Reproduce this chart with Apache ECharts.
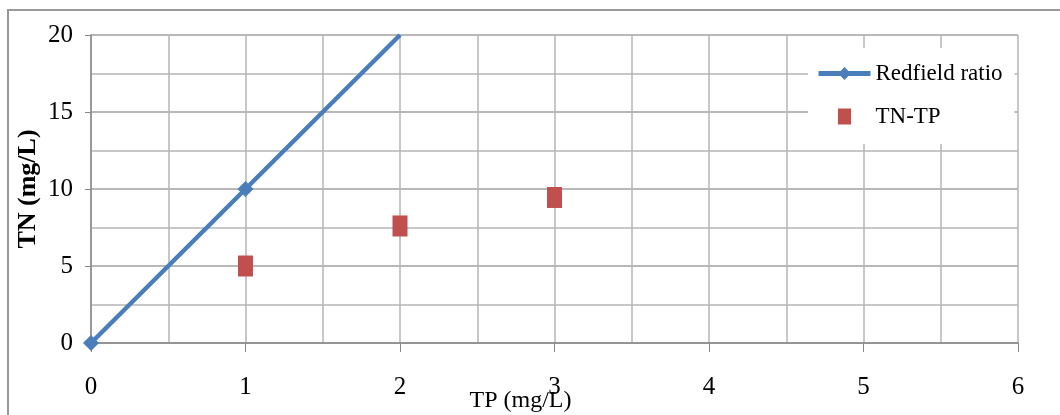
<!DOCTYPE html>
<html><head><meta charset="utf-8">
<script src="https://cdn.jsdelivr.net/npm/echarts@6/dist/echarts.min.js"></script>
<style>html,body{margin:0;padding:0;background:#fff}#c{width:1060px;height:415px}</style>
</head><body><div id="c"></div>
<script>
const redfieldTP = [0, 1, 2];
const redfieldTN = [0, 10, 20];
const obsTP = [1, 2, 3];
const obsTN = [5.0, 7.6, 9.45];
const xTitle = 'TP (mg/L)';
const yTitle = 'TN (mg/L)';
const seriesNames = ['Redfield ratio', 'TN-TP'];

const font = '"Liberation Serif", "DejaVu Serif", serif';
const chart = echarts.init(document.getElementById('c'));
chart.setOption({
  animation: false,
  backgroundColor: '#fff',
  graphic: [{
    type: 'rect', shape: {x: 8, y: 10, width: 1070, height: 420},
    style: {fill: 'none', stroke: '#999', lineWidth: 2}, silent: true, z: -1
  }],
  grid: {left: 91, right: 42, top: 35, bottom: 72, outerBoundsMode: 'none', containLabel: false},
  legend: {
    orient: 'vertical', left: 808, top: 48,
    backgroundColor: '#fff', padding: [14, 12, 16, 8],
    itemWidth: 52, itemHeight: 16, itemGap: 20,
    symbolKeepAspect: true,
    textStyle: {fontFamily: font, fontSize: 23, color: '#000'},
    data: [
      {name: seriesNames[0], lineStyle: {width: 5}},
      {name: seriesNames[1], icon: 'path://M0,0L14,0L14,17L0,17Z'}
    ]
  },
  xAxis: {
    type: 'value', min: 0, max: 6, interval: 1,
    name: xTitle, nameLocation: 'middle', nameGap: 46, nameMoveOverlap: false,
    nameTextStyle: {fontFamily: font, fontSize: 24, color: '#000', padding: [0, 68, 0, 0]},
    axisLine: {show: true, lineStyle: {color: '#888', width: 1.5}},
    axisTick: {show: true, length: 9, lineStyle: {color: '#888'}},
    axisLabel: {fontFamily: font, fontSize: 25, color: '#000', margin: 32},
    splitLine: {show: true, lineStyle: {color: '#b5b5b5', width: 1.5}},
    minorTick: {show: false, splitNumber: 2},
    minorSplitLine: {show: true, lineStyle: {color: '#b5b5b5', width: 1.5}}
  },
  yAxis: {
    type: 'value', min: 0, max: 20, interval: 5,
    name: yTitle, nameLocation: 'middle', nameGap: 50, nameMoveOverlap: false,
    nameTextStyle: {fontFamily: font, fontSize: 26, fontWeight: 'bold', color: '#000'},
    axisLine: {show: true, lineStyle: {color: '#888', width: 1.5}},
    axisTick: {show: true, length: 6, lineStyle: {color: '#888'}},
    axisLabel: {fontFamily: font, fontSize: 25, color: '#000', margin: 18},
    splitLine: {show: true, lineStyle: {color: '#a0a0a0', width: 1.5}},
    minorTick: {show: false, splitNumber: 2},
    minorSplitLine: {show: true, lineStyle: {color: '#b5b5b5', width: 1.5}}
  },
  series: [
    {
      name: seriesNames[0], type: 'line',
      data: redfieldTP.map((x, i) => ({
        value: [x, redfieldTN[i]],
        symbol: i === redfieldTP.length - 1 ? 'none' : 'diamond'
      })),
      symbol: 'diamond', symbolSize: 16, showSymbol: true,
      lineStyle: {color: '#4a7ebb', width: 4.5},
      itemStyle: {color: '#4a7ebb'},
      clip: true, z: 3
    },
    {
      name: seriesNames[1], type: 'scatter',
      data: obsTP.map((x, i) => [x, obsTN[i]]),
      symbol: 'rect', symbolSize: [15, 21],
      itemStyle: {color: '#c0504d', opacity: 1}, z: 2
    }
  ]
});
</script></body></html>
